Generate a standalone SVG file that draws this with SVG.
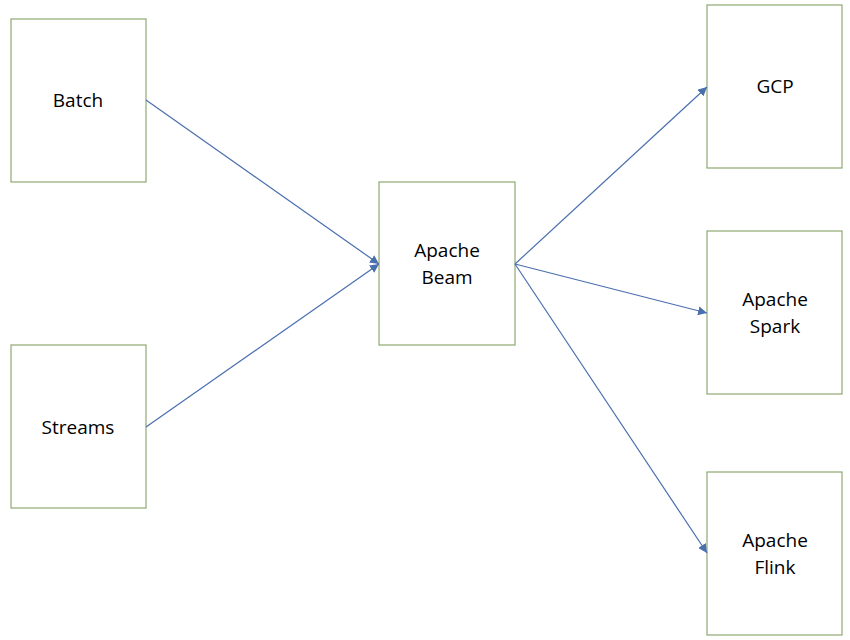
<svg xmlns="http://www.w3.org/2000/svg" width="850" height="640" viewBox="0 0 850 640">
<style>
rect{fill:#fff;stroke:#8fa870;stroke-width:1.2}
text{font-family:"Open Sans","Liberation Sans",sans-serif;font-size:19px;fill:#000;text-anchor:middle}
.c line{stroke:#4a6fae;stroke-width:1.2;marker-end:url(#a)}
</style>
<defs><marker id="a" viewBox="0 0 10 10" refX="10" refY="5" markerWidth="9" markerHeight="9" markerUnits="userSpaceOnUse" orient="auto"><path d="M0,0L10,5L0,10z" fill="#4a6fae"/></marker></defs>
<rect width="850" height="640" fill="#fff" style="stroke:none"/>
<g id="batch"><rect x="11" y="19" width="135" height="163"/><text x="78" y="107">Batch</text></g>
<g id="streams"><rect x="11" y="345" width="135" height="163"/><text x="78" y="434">Streams</text></g>
<g id="beam"><rect x="379" y="182" width="136" height="163"/><text x="447" y="257">Apache</text><text x="447" y="284">Beam</text></g>
<g id="gcp"><rect x="707" y="5" width="135" height="163"/><text x="775" y="93">GCP</text></g>
<g id="spark"><rect x="707" y="231" width="135" height="163"/><text x="775" y="306">Apache</text><text x="775" y="333">Spark</text></g>
<g id="flink"><rect x="707" y="472" width="135" height="163"/><text x="775" y="547">Apache</text><text x="775" y="574">Flink</text></g>
<g class="c">
<line x1="146" y1="100" x2="379" y2="264"/>
<line x1="146" y1="427" x2="379" y2="264"/>
<line x1="515" y1="264" x2="707" y2="87"/>
<line x1="515" y1="264" x2="707" y2="313"/>
<line x1="515" y1="264" x2="707" y2="553"/>
</g>
</svg>
